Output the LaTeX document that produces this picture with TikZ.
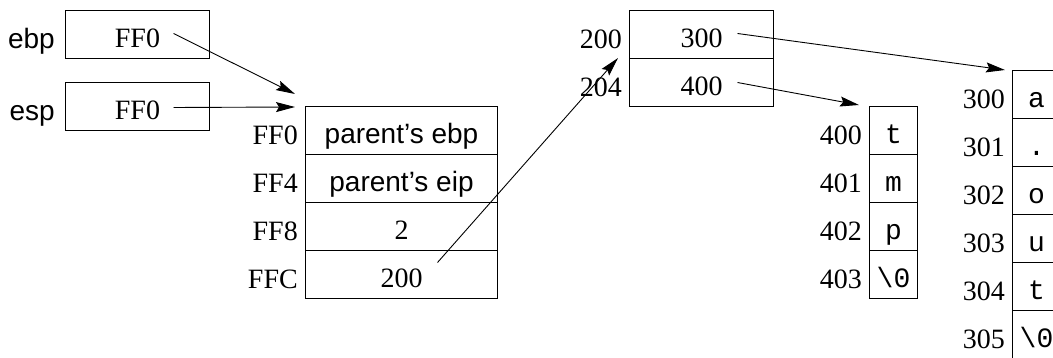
\documentclass[tikz,border=0pt]{standalone}
\usepackage{fontspec}
\setmainfont{Liberation Serif}
\setsansfont{Liberation Sans}
\setmonofont{Liberation Mono}
\usetikzlibrary{arrows.meta}
\tikzset{
  every node/.style={font=\fontsize{28}{33}\selectfont},
  cell/.style={draw, line width=1pt, anchor=north west, inner sep=0pt,
    minimum height=48pt, minimum width=#1},
  txt/.style={anchor=base, inner sep=0pt},
  ptr/.style={line width=0.9pt, -{Stealth[length=19pt, width=10pt, inset=3pt]}},
}
% a memory cell: name, x, y, width, contents, address label, label gap
\newcommand\memcell[7]{%
  \node[cell=#4] (#1) at (#2,#3) {};
  \node[txt] (#1v) at ([yshift=-13pt]#1.center) {#5};
  \node[txt, anchor=base east] (#1a) at ([xshift=-#7, yshift=-14pt]#1.west) {#6};
}
\begin{document}
\begin{tikzpicture}[x=1pt, y=-1pt]
\useasboundingbox (0,0) rectangle (1053,358);
\clip (0,0) rectangle (1053,358);

% registers
\memcell{ebp}{65}{10}{144pt}{FF0}{\textsf{ebp}}{10pt}
\memcell{esp}{65}{82}{144pt}{FF0}{\textsf{esp}}{10pt}

% stack frame
\memcell{s0}{305}{106}{192pt}{\textsf{parent's ebp}}{FF0}{7pt}
\memcell{s1}{305}{154}{192pt}{\textsf{parent's eip}}{FF4}{7pt}
\memcell{s2}{305}{202}{192pt}{2}{FF8}{7pt}
\memcell{s3}{305}{250}{192pt}{200}{FFC}{7pt}

% pointer array
\memcell{p0}{629}{10}{144pt}{300}{200}{7pt}
\memcell{p1}{629}{58}{144pt}{400}{204}{7pt}

% string at 400
\memcell{t0}{869}{106}{48pt}{\texttt{t}}{400}{7pt}
\memcell{t1}{869}{154}{48pt}{\texttt{m}}{401}{7pt}
\memcell{t2}{869}{202}{48pt}{\texttt{p}}{402}{7pt}
\memcell{t3}{869}{250}{48pt}{\texttt{\textbackslash 0}}{403}{7pt}

% string at 300
\memcell{c0}{1012}{70}{48pt}{\texttt{a}}{300}{7pt}
\memcell{c1}{1012}{118}{48pt}{\texttt{.}}{301}{7pt}
\memcell{c2}{1012}{166}{48pt}{\texttt{o}}{302}{7pt}
\memcell{c3}{1012}{214}{48pt}{\texttt{u}}{303}{7pt}
\memcell{c4}{1012}{262}{48pt}{\texttt{t}}{304}{7pt}
\memcell{c5}{1012}{310}{48pt}{\texttt{\textbackslash 0}}{305}{7pt}

% pointer tails and heads
\coordinate (ebpS) at ([xshift=36pt, yshift=1pt]ebp.center);
\coordinate (ebpE) at ([xshift=-10pt, yshift=12pt]s0.north west);
\coordinate (espS) at ([xshift=36pt, yshift=-1pt]esp.center);
\coordinate (espE) at ([xshift=-10pt, yshift=-1pt]s0.north west);
\coordinate (s3S) at ([xshift=36pt, yshift=12pt]s3.center);
\coordinate (s3E) at ([xshift=-11pt, yshift=1pt]p0.south west);
\coordinate (p0S) at ([xshift=36pt, yshift=1pt]p0.center);
\coordinate (p0E) at ([xshift=-7pt]c0.north west);
\coordinate (p1S) at ([xshift=36pt]p1.center);
\coordinate (p1E) at ([xshift=-10pt, yshift=1pt]t0.north west);

\draw[ptr] (ebpS) -- (ebpE);
\draw[ptr] (espS) -- (espE);
\draw[ptr] (s3S) -- (s3E);
\draw[ptr] (p0S) -- (p0E);
\draw[ptr] (p1S) -- (p1E);
\end{tikzpicture}
\end{document}
